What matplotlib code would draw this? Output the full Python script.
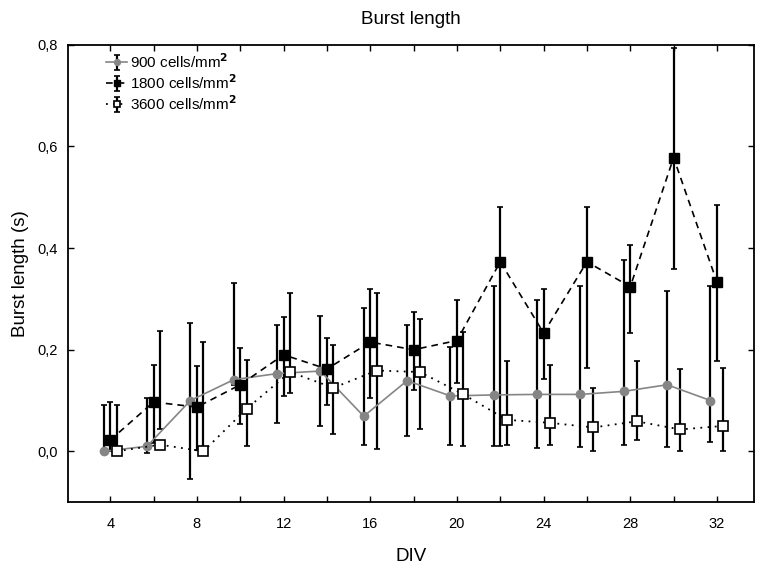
import matplotlib
matplotlib.use('Agg')
import matplotlib.pyplot as plt
import numpy as np
from matplotlib.ticker import MultipleLocator, FuncFormatter

plt.rcParams['font.family'] = ['Liberation Sans', 'DejaVu Sans']

div = [4, 6, 8, 10, 12, 14, 16, 18, 20, 22, 24, 26, 28, 30, 32]

# 900 cells/mm2
mean_900 = [0.0, 0.010, 0.100, 0.141, 0.153, 0.158, 0.069, 0.139, 0.109, 0.111,
            0.112, 0.112, 0.118, 0.131, 0.100]
lo_900 = [0.0, -0.003, -0.054, 0.13, 0.056, 0.050, 0.013, 0.031, 0.013, 0.010,
          0.007, 0.008, 0.012, 0.008, 0.018]
hi_900 = [0.092, 0.105, 0.252, 0.331, 0.249, 0.267, 0.282, 0.248, 0.205, 0.326,
          0.298, 0.326, 0.377, 0.316, 0.326]

# 1800 cells/mm2
mean_1800 = [0.022, 0.097, 0.087, 0.131, 0.190, 0.162, 0.215, 0.200, 0.218, 0.373,
             0.233, 0.373, 0.324, 0.578, 0.333]
lo_1800 = [0.0, 0.016, 0.002, 0.053, 0.108, 0.092, 0.105, 0.121, 0.134, 0.010,
           0.143, 0.164, 0.232, 0.359, 0.177]
hi_1800 = [0.097, 0.170, 0.168, 0.204, 0.264, 0.223, 0.320, 0.274, 0.298, 0.480,
           0.320, 0.481, 0.407, 0.794, 0.485]

# 3600 cells/mm2
mean_3600 = [0.0, 0.013, 0.0, 0.084, 0.156, 0.125, 0.159, 0.156, 0.112, 0.062,
             0.056, 0.047, 0.059, 0.043, 0.050]
lo_3600 = [0.0, 0.043, 0.0, 0.010, 0.115, 0.035, 0.005, 0.043, 0.010, 0.012,
           0.012, 0.0, 0.022, 0.0, 0.0]
hi_3600 = [0.092, 0.236, 0.215, 0.180, 0.311, 0.210, 0.311, 0.261, 0.234, 0.177,
           0.170, 0.124, 0.177, 0.162, 0.164]

labels = ['900 cells/mm$^\\mathbf{2}$', '1800 cells/mm$^\\mathbf{2}$',
          '3600 cells/mm$^\\mathbf{2}$']

fig = plt.figure(figsize=(7.68, 5.68), dpi=100)
ax = fig.add_axes([0.0885, 0.116, 0.893, 0.805])

x = np.array(div, dtype=float)
eb = dict(ecolor='black', elinewidth=1.6, capsize=2.5, capthick=1.2)

series = [
    (x - 0.3, mean_900, lo_900, hi_900,
     dict(color='#858585', lw=1.2, ls='-', marker='o', ms=6,
          mfc='#858585', mec='#858585')),
    (x, mean_1800, lo_1800, hi_1800,
     dict(color='black', lw=1.2, ls=(0, (4, 3)), marker='s', ms=7,
          mfc='black', mec='black')),
    (x + 0.3, mean_3600, lo_3600, hi_3600,
     dict(color='black', lw=1.3, ls=(0, (1, 3)), marker='s', ms=7,
          mfc='white', mec='black', mew=1.2)),
]

handles = []
for (xs, m, lo, hi, st), lab in zip(series, labels):
    lo = np.array(lo)
    hi = np.array(hi)
    # whiskers (drawn from the low/high ends)
    ax.errorbar(xs, (lo + hi) / 2, yerr=(hi - lo) / 2, fmt='none', zorder=2, **eb)
    ax.plot(xs, m, zorder=3, **st)
    # proxy for the legend entry
    h = ax.errorbar([np.nan], [np.nan], yerr=[0.1], **st, **eb)
    handles.append(h)

ax.set_xlim(2.05, 33.7)
ax.set_ylim(-0.1, 0.8)
ax.xaxis.set_major_locator(MultipleLocator(4))
ax.xaxis.set_minor_locator(MultipleLocator(2))
ax.yaxis.set_major_locator(MultipleLocator(0.2))
ax.yaxis.set_major_formatter(FuncFormatter(lambda v, p: f'{v:.1f}'.replace('.', ',')))
ax.tick_params(which='both', direction='in', top=True, right=True,
               length=4, width=1, labelsize=10.5)
ax.tick_params(axis='x', pad=11)
ax.tick_params(axis='y', pad=7)
for s in ax.spines.values():
    s.set_linewidth(1.3)

ax.set_title('Burst length', fontsize=13.5, pad=15)
ax.set_xlabel('DIV', fontsize=13.5, labelpad=12)
ax.set_ylabel('Burst length (s)', fontsize=13.5, labelpad=6)

ax.legend(handles, labels, loc='upper left', bbox_to_anchor=(0.04, 1.008),
          frameon=False, fontsize=11, handlelength=1.4, handletextpad=0.15,
          labelspacing=0.15, borderaxespad=0.3, markerscale=0.7)

plt.savefig('out.png', dpi=100)
